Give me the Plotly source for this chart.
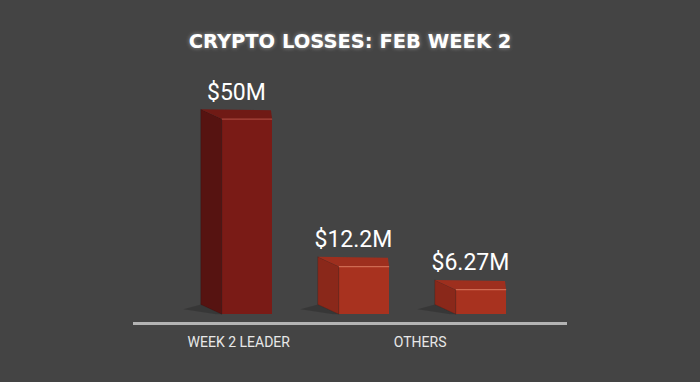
import plotly.graph_objects as go

# ---- data ----
categories = ["Week 2 leader", "Other 1", "Other 2"]
losses_musd = [50, 12.2, 6.27]
tick_labels = ["WEEK 2 LEADER", "OTHERS"]
title_text = "CRYPTO LOSSES: FEB WEEK 2"

# ---- styling / geometry constants ----
positions = list(range(len(losses_musd)))
tick_positions = [-0.07, 1.48]
BAR_W = 0.43
DX = -0.18      # depth offset in x units
DY = 2.5        # depth offset in y units
LABEL_PAD = 1.0
front_cols = ["#7a1b16", "#a8321f", "#a8321f"]
side_cols = ["#561311", "#8a281a", "#8a281a"]
top_cols = ["#701a15", "#9e2f1e", "#9e2f1e"]
edge_cols = ["#a8463c", "#cf6a52", "#cf6a52"]
BG = "#444444"

fig = go.Figure()

# floor shadows
for p, v in zip(positions, losses_musd):
    L = p - BAR_W / 2
    fig.add_trace(go.Scatter(
        x=[L, L + DX, L + DX - 0.15, L - 0.05],
        y=[0, DY, DY * 0.5, 0],
        fill="toself", mode="lines", line=dict(width=0),
        fillcolor="rgba(0,0,0,0.18)", hoverinfo="skip", showlegend=False))

# left side faces
for p, v, c in zip(positions, losses_musd, side_cols):
    L = p - BAR_W / 2
    fig.add_trace(go.Scatter(
        x=[L, L, L + DX, L + DX, L],
        y=[0, v, v + DY, DY, 0],
        fill="toself", mode="lines", line=dict(width=0.6, color="rgba(0,0,0,0.25)"),
        fillcolor=c, hoverinfo="skip", showlegend=False))

# front faces
fig.add_trace(go.Bar(
    x=positions, y=losses_musd, width=BAR_W,
    marker=dict(color=front_cols, line=dict(width=0)),
    hoverinfo="skip", showlegend=False))

# top faces
for p, v, c, e in zip(positions, losses_musd, top_cols, edge_cols):
    L = p - BAR_W / 2
    R = p + BAR_W / 2
    fig.add_trace(go.Scatter(
        x=[L, R, R - 0.01, L + DX, L],
        y=[v, v, v + DY * 0.9, v + DY, v],
        fill="toself", mode="lines", line=dict(width=0),
        fillcolor=c, hoverinfo="skip", showlegend=False))
    fig.add_trace(go.Scatter(
        x=[L, R], y=[v, v], mode="lines",
        line=dict(width=1.2, color=e), hoverinfo="skip", showlegend=False))

# value labels
fig.add_trace(go.Scatter(
    x=[p + DX / 2 for p in positions],
    y=[v + DY + LABEL_PAD for v in losses_musd],
    mode="text",
    text=[f"${v:g}M" for v in losses_musd],
    textposition="top center",
    textfont=dict(family="Roboto", size=23, color="#ffffff"),
    hoverinfo="skip", showlegend=False))

fig.update_layout(
    width=700, height=382,
    margin=dict(l=133, r=133, t=80, b=60),
    paper_bgcolor=BG, plot_bgcolor=BG,
    title=dict(
        text=f"<b>{title_text}</b>", x=0.5, xanchor="center",
        y=1 - 41 / 382, yanchor="middle", yref="container",
        font=dict(family="DejaVu Sans", size=19.5, color="#ffffff",
                  shadow="0px 0px 4px rgba(255,255,255,0.45)")),
    xaxis=dict(
        range=[-0.974, 2.735], showgrid=False, zeroline=False,
        showline=True, linecolor="#b4b4b4", linewidth=2.5,
        tickvals=tick_positions, ticktext=tick_labels, ticks="",
        ticklabelstandoff=5,
        tickfont=dict(family="Roboto", size=14, color="#e8e8e8"),
        fixedrange=True),
    yaxis=dict(range=[-2, 60], visible=False, fixedrange=True),
    bargap=0,
)

fig.write_html("out.html",
               config={"displayModeBar": False},
               post_script="document.body.style.margin='0px';document.body.style.background='#444444';")
